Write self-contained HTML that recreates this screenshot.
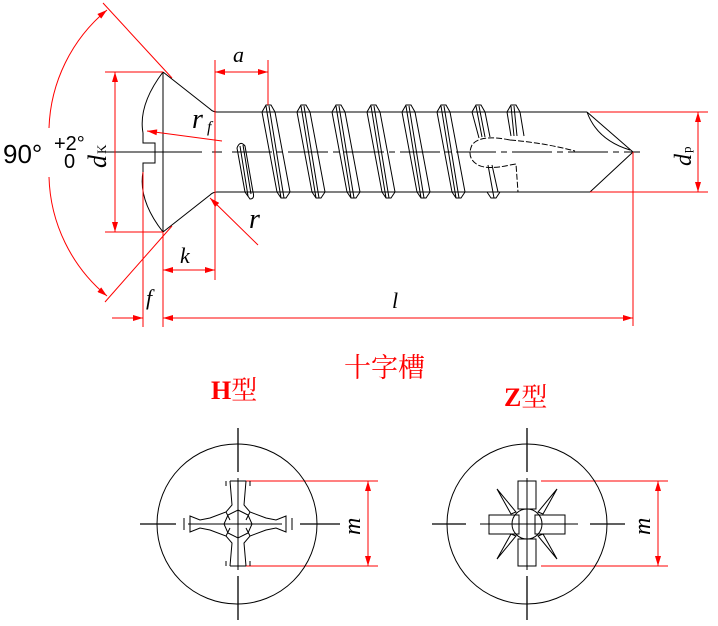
<!DOCTYPE html>
<html><head><meta charset="utf-8"><style>
html,body{margin:0;padding:0;background:#fff;}
svg{display:block;}
text{font-family:"Liberation Serif","Noto Serif CJK SC",serif;}
</style></head><body>
<svg width="718" height="626" viewBox="0 0 718 626" xmlns="http://www.w3.org/2000/svg">
<defs>
<marker id="ar" viewBox="0 0 10 6" refX="10" refY="3" markerWidth="12" markerHeight="6" markerUnits="userSpaceOnUse" orient="auto-start-reverse"><path d="M0,0L10,3L0,6z" fill="#f00"/></marker>
</defs>
<g stroke="#000" stroke-width="1" fill="none">
<line x1="163" y1="72" x2="163" y2="232"/>
<path d="M163,72 Q138,105 143,133 M143,172 Q138,200 163,232"/>
<path d="M143,133 L143,143 L155,143 L155,163 L143,163 L143,172"/>
<path d="M163,72 L210,109 Q213,112 217,112 M163,232 L210,195 Q213,192 217,192"/>
<line x1="217" y1="112" x2="587" y2="112"/>
<line x1="217" y1="192" x2="590" y2="192"/>
<line x1="100" y1="152" x2="202" y2="152"/>
<path d="M212,152H222 M232,152H640" stroke-dasharray="40,5,6,5"/>
<path d="M237,148 Q240,140 245,146 L253,192 Q255,199 250,199 L245,192 Z"/>
<path d="M240,146 L248,196 M243,145 L251,194"/>
<g><path d="M262,112 L266,105 L271,105 L275,112 M262,112 L277,192 M266,106 L281,198 M269,106 L284,198 M275,112 L290,192 M277,192 L281,198 L286,198 L290,192"/></g>
<g transform="translate(35,0)"><path d="M262,112 L266,105 L271,105 L275,112 M262,112 L277,192 M266,106 L281,198 M269,106 L284,198 M275,112 L290,192 M277,192 L281,198 L286,198 L290,192"/></g>
<g transform="translate(70,0)"><path d="M262,112 L266,105 L271,105 L275,112 M262,112 L277,192 M266,106 L281,198 M269,106 L284,198 M275,112 L290,192 M277,192 L281,198 L286,198 L290,192"/></g>
<g transform="translate(105,0)"><path d="M262,112 L266,105 L271,105 L275,112 M262,112 L277,192 M266,106 L281,198 M269,106 L284,198 M275,112 L290,192 M277,192 L281,198 L286,198 L290,192"/></g>
<g transform="translate(140,0)"><path d="M262,112 L266,105 L271,105 L275,112 M262,112 L277,192 M266,106 L281,198 M269,106 L284,198 M275,112 L290,192 M277,192 L281,198 L286,198 L290,192"/></g>
<g transform="translate(175,0)"><path d="M262,112 L266,105 L271,105 L275,112 M262,112 L277,192 M266,106 L281,198 M269,106 L284,198 M275,112 L290,192 M277,192 L281,198 L286,198 L290,192"/></g>
<g transform="translate(210,0)"><path d="M262,112 L266,105 L271,105 L275,112 M262,112 L269,138 M266,106 L272,137 M269,106 L275,137 M275,112 L280,137 M282,165 L288,192 M277,192 L281,198 L286,198 L290,192 M278,165 L284,198"/></g>
<g transform="translate(245,0)"><path d="M262,112 L266,105 L271,105 L275,112 M262,112 L266,136 M266,106 L269,136 M269,106 L272,136 M275,112 L279,136"/></g>
<path d="M510,140 Q480,134 472,145 Q466,158 478,165 Q488,170 510,165 L516,164 L518,192 M510,140 Q545,143 575,151" stroke-dasharray="6,2"/>
<path d="M587,112 L633,152 L590,192 M587,112 Q597,140 630,150"/>
</g>
<g stroke="#f00" stroke-width="1" fill="none">
<line x1="103" y1="3" x2="172" y2="78"/>
<line x1="105" y1="302" x2="172" y2="226"/>
<path d="M49,128 A160,160 0 0 1 107,10" marker-end="url(#ar)"/>
<path d="M49,177 A160,160 0 0 0 107,296" marker-end="url(#ar)"/>
<line x1="105" y1="72" x2="163" y2="72"/>
<line x1="105" y1="232" x2="163" y2="232"/>
<line x1="115" y1="72" x2="115" y2="232" marker-start="url(#ar)" marker-end="url(#ar)"/>
<line x1="215" y1="60" x2="215" y2="280"/>
<line x1="268" y1="60" x2="268" y2="105"/>
<line x1="215" y1="72" x2="268" y2="72" marker-start="url(#ar)" marker-end="url(#ar)"/>
<line x1="163" y1="232" x2="163" y2="327"/>
<line x1="143" y1="172" x2="143" y2="327"/>
<line x1="163" y1="270" x2="215" y2="270" marker-start="url(#ar)" marker-end="url(#ar)"/>
<line x1="112" y1="318" x2="143" y2="318" marker-end="url(#ar)"/>
<line x1="163" y1="318" x2="633" y2="318" marker-start="url(#ar)" marker-end="url(#ar)"/>
<line x1="633" y1="152" x2="633" y2="326"/>
<line x1="590" y1="112" x2="708" y2="112"/>
<line x1="590" y1="192" x2="708" y2="192"/>
<line x1="698" y1="112" x2="698" y2="192" marker-start="url(#ar)" marker-end="url(#ar)"/>
<line x1="222" y1="141" x2="147" y2="131" marker-end="url(#ar)"/>
<line x1="258" y1="245" x2="210" y2="198" marker-end="url(#ar)"/>
<line x1="246" y1="481" x2="378" y2="481"/>
<line x1="246" y1="566" x2="378" y2="566"/>
<line x1="368" y1="481" x2="368" y2="566" marker-start="url(#ar)" marker-end="url(#ar)"/>
<line x1="541" y1="481" x2="668" y2="481"/>
<line x1="541" y1="566" x2="668" y2="566"/>
<line x1="658" y1="481" x2="658" y2="566" marker-start="url(#ar)" marker-end="url(#ar)"/>
</g>
<g fill="#000" font-style="italic">
<text x="233" y="62" font-size="22">a</text>
<text x="180" y="263" font-size="22">k</text>
<text x="146" y="305" font-size="22">f</text>
<text x="392" y="308" font-size="22">l</text>
<text x="192" y="128" font-size="28">r</text>
<text x="207" y="132" font-size="16">f</text>
<text x="249" y="228" font-size="28">r</text>
<text transform="translate(106,168) rotate(-90)" font-size="26">d</text>
<text transform="translate(106,154) rotate(-90)" font-size="13" font-style="normal">K</text>
<text transform="translate(691,166) rotate(-90)" font-size="24">d</text>
<text transform="translate(691,153) rotate(-90)" font-size="13" font-style="normal">p</text>
<text transform="translate(360,535) rotate(-90)" font-size="24">m</text>
<text transform="translate(650,535) rotate(-90)" font-size="24">m</text>
</g>
<g fill="#000">
<text x="3" y="163" font-size="26" style="font-family:'Liberation Sans',sans-serif">90°</text>
<text x="54" y="150" font-size="20" style="font-family:'Liberation Sans',sans-serif">+2°</text>
<text x="64" y="168" font-size="20" style="font-family:'Liberation Sans',sans-serif">0</text>
</g>
<g fill="#f00">
<text x="344" y="377" font-size="27">十字槽</text>
<text x="211" y="399" font-size="26" font-weight="bold">H<tspan font-weight="normal">型</tspan></text>
<text x="504" y="406" font-size="26" font-weight="bold">Z<tspan font-weight="normal">型</tspan></text>
</g>
<g stroke="#000" stroke-width="1" fill="none">
<circle cx="237" cy="524" r="80"/>
<path d="M238,428V472 M238,576V620 M140,524H176 M300,524H340" stroke-width="1.3"/>
<path d="M238,478V570 M188,524H282"/>
<path d="M230,481 L232,505 L226,512 L210,518 L200,520 L190,516 L190,532 L200,528 L210,530 L226,536 L232,543 L230,566"/>
<path d="M246,481 L244,505 L250,512 L266,518 L276,520 L286,516 L286,532 L276,528 L266,530 L250,536 L244,543 L246,566"/>
<path d="M230,481H246 M230,566H246 M190,516V532 M286,516V532 M226,481V486 M226,561V566 M250,481V486 M250,561V566 M184,518V530 M292,518V530"/>
<path d="M238,510 L248,515 L252,524 L248,533 L238,538 L228,533 L224,524 L228,515 Z"/>
<path d="M226,512 L230,520 M250,512 L246,520 M226,536 L230,528 M250,536 L246,528"/>
</g>
<g stroke="#000" stroke-width="1" fill="none">
<circle cx="527" cy="524" r="80"/>
<path d="M527,428V472 M527,576V620 M432,524H466 M590,524H625" stroke-width="1.3"/>
<path d="M480,524H578 M527,478V570"/>
<rect x="518" y="481" width="18" height="28"/>
<rect x="518" y="539" width="18" height="27"/>
<rect x="489" y="515" width="30" height="19"/>
<rect x="535" y="515" width="30" height="19"/>
<circle cx="527" cy="524" r="15"/>
<path d="M497,489 L516,512 L511,514 Z M557,489 L538,512 L543,514 Z M497,559 L516,536 L511,534 Z M557,559 L538,536 L543,534 Z"/>
</g>
</svg>
</body></html>
